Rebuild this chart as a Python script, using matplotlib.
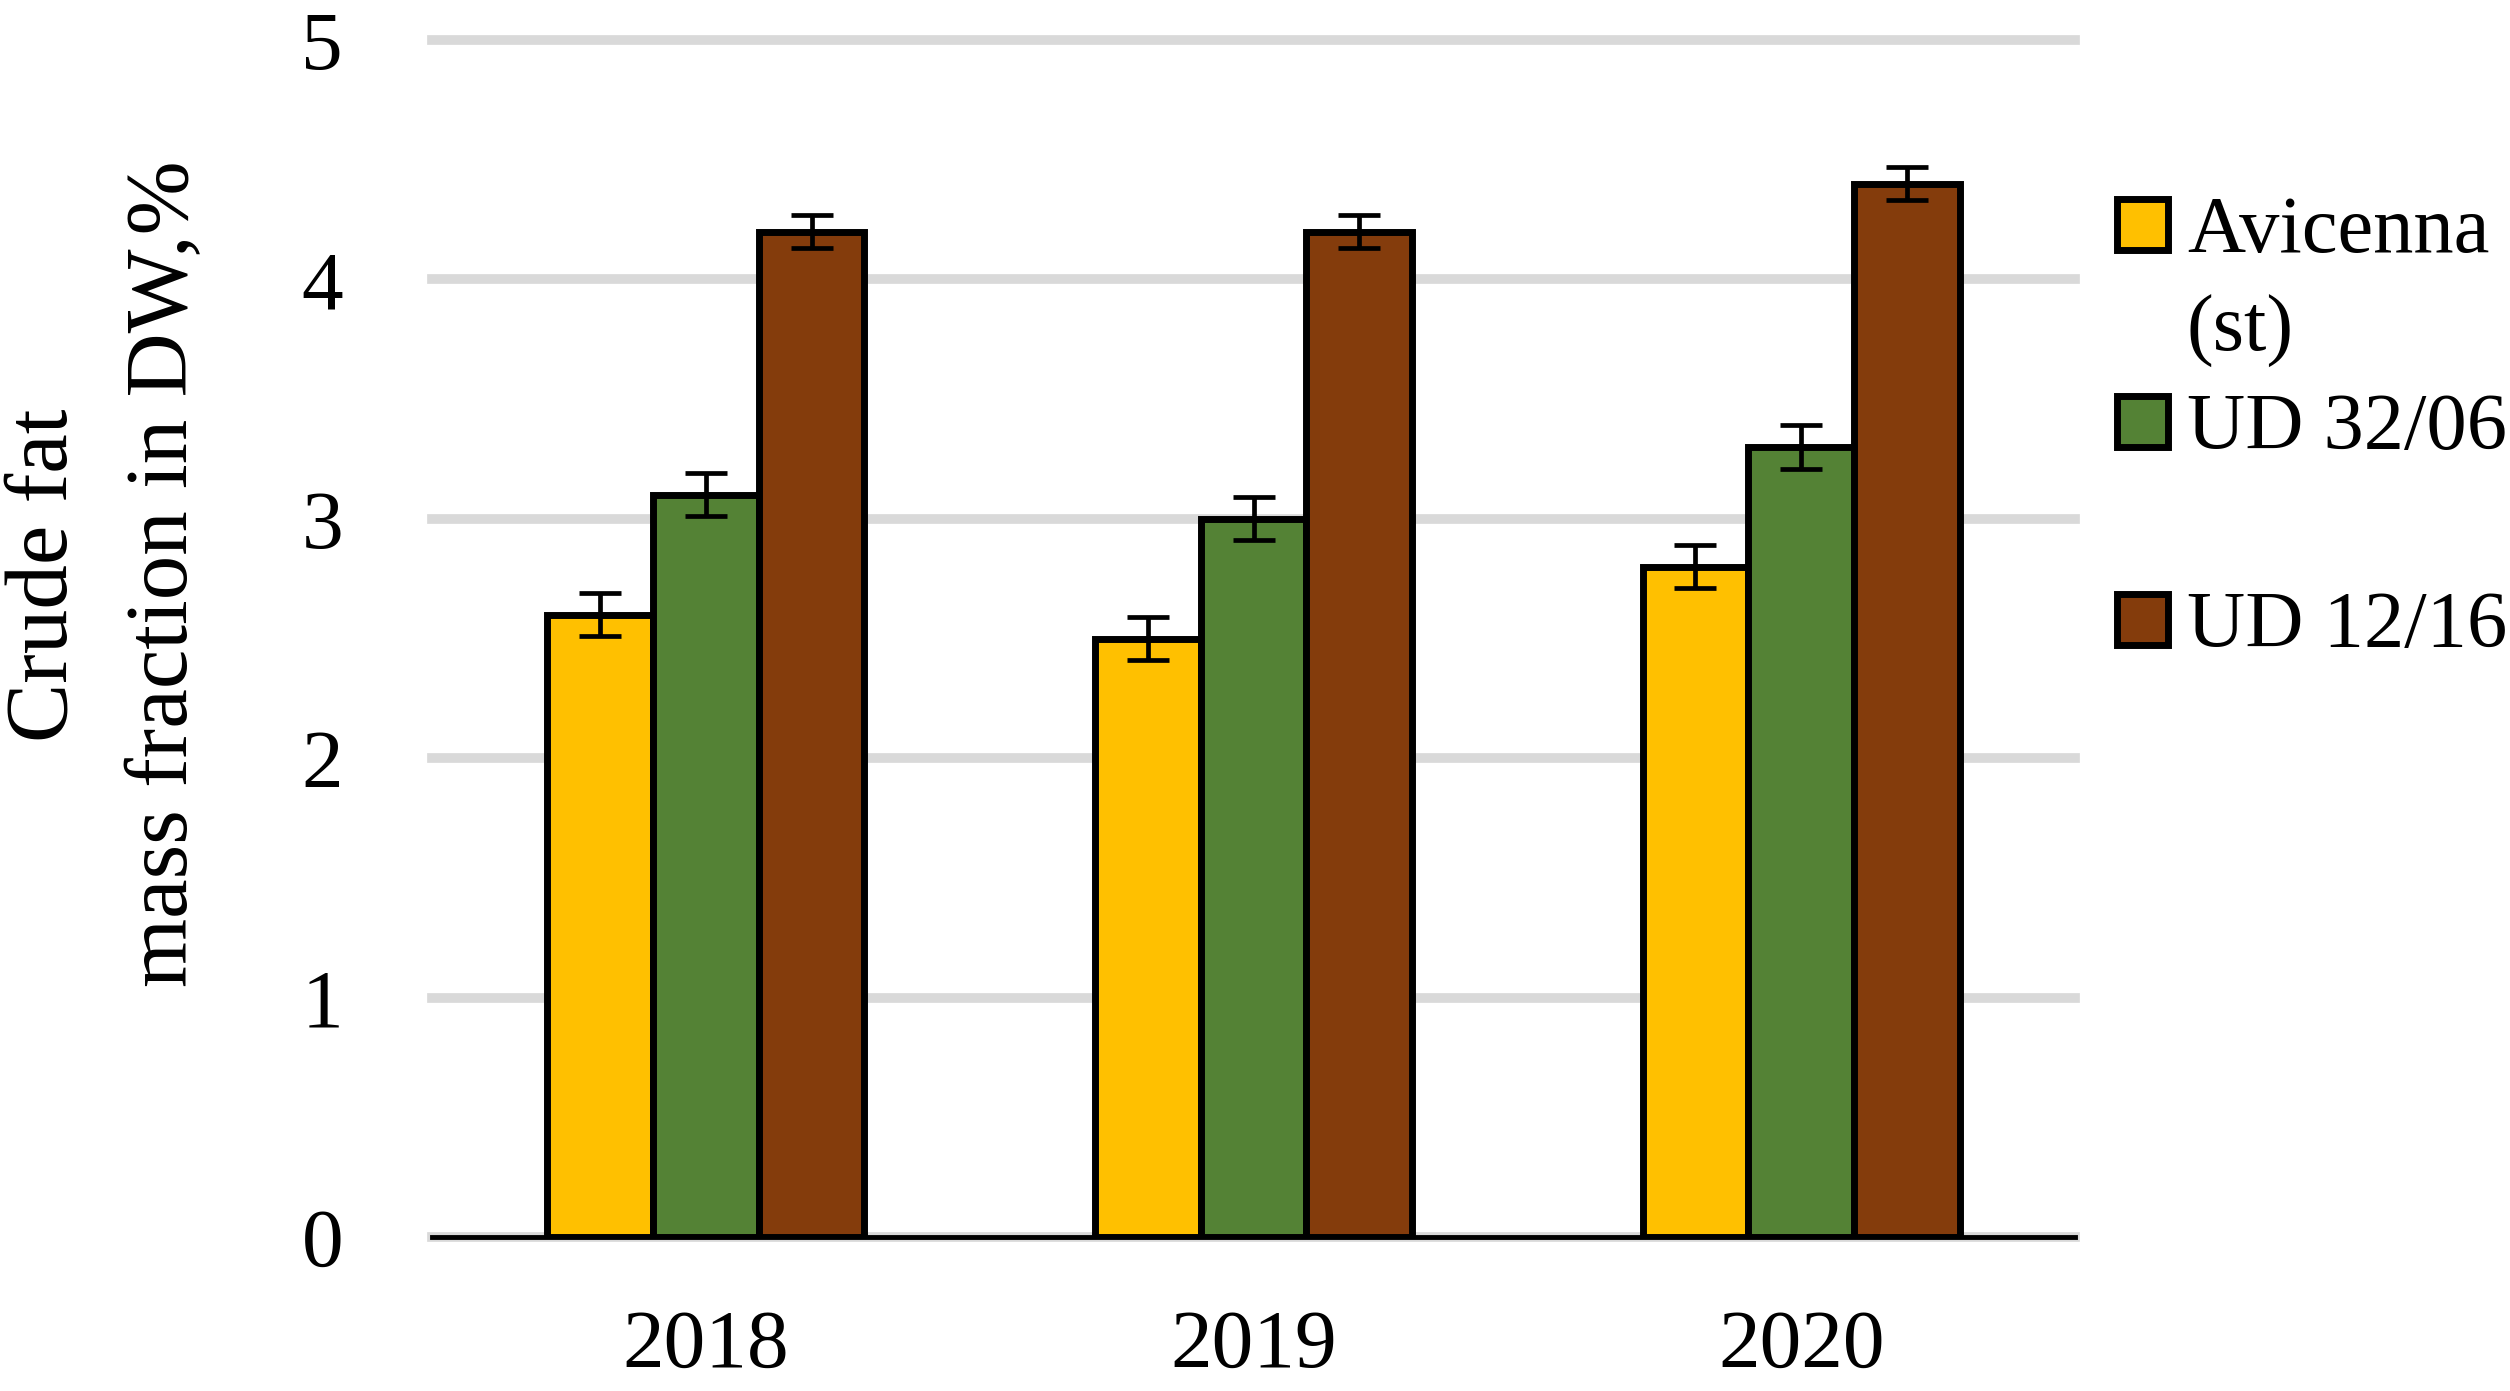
import matplotlib
matplotlib.use("Agg")
import matplotlib.pyplot as plt
from matplotlib.patches import Rectangle
import numpy as np

years = ["2018", "2019", "2020"]
series = ["Avicenna\n(st)", "UD 32/06", "UD 12/16"]
avicenna = [2.6, 2.5, 2.8]
ud3206 = [3.1, 3.0, 3.3]
ud1216 = [4.2, 4.2, 4.4]
err_avicenna = [0.09, 0.09, 0.09]
err_ud3206 = [0.09, 0.09, 0.09]
err_ud1216 = [0.07, 0.07, 0.07]
yticks = [0, 1, 2, 3, 4, 5]
colors = ["#FFC000", "#548235", "#843C0C"]

plt.rcParams['font.family'] = ['Liberation Serif', 'DejaVu Serif']
FS_TICK = 60
FS_LAB = 64
FS_LEG = 58

W, H = 2510, 1391
fig = plt.figure(figsize=(W / 100, H / 100), dpi=100)
ax = fig.add_axes([432 / W, 1 - 1237 / H, (2075 - 432) / W, (1237 - 40) / H])

x = np.arange(len(years))
bw = 0.193
vals = [avicenna, ud3206, ud1216]
errs = [err_avicenna, err_ud3206, err_ud1216]
for i, (v, e, c) in enumerate(zip(vals, errs, colors)):
    ax.bar(x + (i - 1) * bw, v, width=bw, color=c, edgecolor="black",
           linewidth=5, zorder=3)
    ax.errorbar(x + (i - 1) * bw, v, yerr=e, fmt="none", ecolor="black",
                elinewidth=3.4, capsize=15, capthick=3.4, zorder=4)

ax.set_xlim(-0.5, 2.5)
ax.set_ylim(0, 5)
ax.set_yticks(yticks)
ax.set_yticklabels([str(t) for t in yticks])
ax.set_xticks(x)
ax.set_xticklabels(years)
ax.tick_params(axis="both", length=0, labelsize=FS_TICK)
ax.tick_params(axis="y", pad=64)
ax.tick_params(axis="x", pad=52)
ax.yaxis.grid(True, color="#D9D9D9", linewidth=7, zorder=0)
for gl in ax.get_ygridlines():
    gl.set_clip_on(False)
ax.set_axisbelow(True)
for s in ["top", "right", "left"]:
    ax.spines[s].set_visible(False)
ax.spines["bottom"].set_linewidth(3.5)
ax.spines["bottom"].set_zorder(5)

# y label (two centered lines)
fig.text(45 / W, 1 - 575 / H, "Crude fat", rotation=90, ha="center",
         va="center", fontsize=FS_LAB)
fig.text(166 / W, 1 - 574 / H, "mass fraction in DW,%", rotation=90,
         ha="center", va="center", fontsize=FS_LAB)

# legend drawn manually
leg_y = [224, 421, 619]
sq = 51
for yy, lab, c in zip(leg_y, series, colors):
    fig.patches.append(Rectangle(((2117) / W, 1 - (yy + sq / 2) / H),
                                 sq / W, sq / H, transform=fig.transFigure,
                                 facecolor=c, edgecolor="black",
                                 linewidth=5, figure=fig))
    lines = lab.split("\n")
    for k, ln in enumerate(lines):
        fig.text(2187 / W, 1 - (yy + k * 99) / H, ln, ha="left",
                 va="center_baseline", fontsize=FS_LEG)

fig.savefig("out.png", dpi=100)
